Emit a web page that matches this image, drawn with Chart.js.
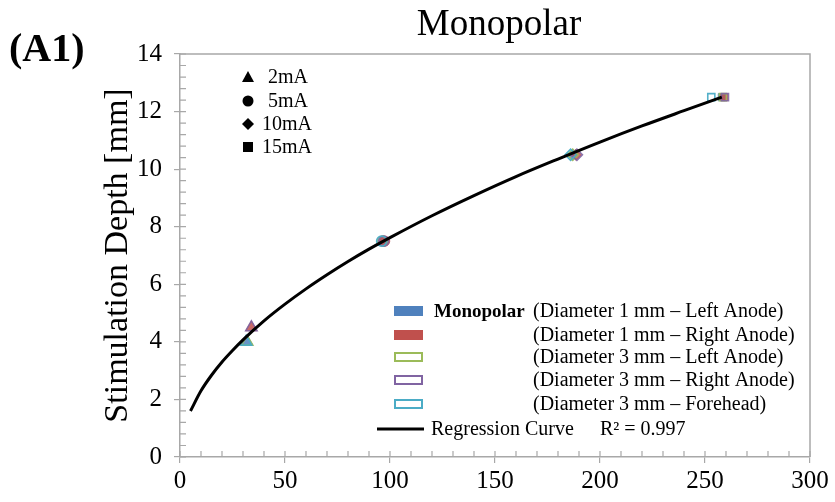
<!DOCTYPE html>
<html>
<head>
<meta charset="utf-8">
<script src="https://cdn.jsdelivr.net/npm/chart.js@4/dist/chart.umd.min.js"></script>
<style>
html,body{margin:0;padding:0;background:#fff;}
#wrap{width:835px;height:502px;position:relative;}
</style>
</head>
<body>
<div id="wrap"><canvas id="c" width="835" height="502"></canvas></div>
<script>
// ---- data ----
const currents = ['2mA', '5mA', '10mA', '15mA'];
const seriesNames = [
  '(Diameter 1 mm \u2013 Left Anode)',
  '(Diameter 1 mm \u2013 Right Anode)',
  '(Diameter 3 mm \u2013 Left Anode)',
  '(Diameter 3 mm \u2013 Right Anode)',
  '(Diameter 3 mm \u2013 Forehead)'
];
const xD1Left  = [32.0, 97.0, 187.0, 258.0];
const yD1Left  = [4.0, 7.5, 10.5, 12.5];
const xD1Right = [34.0, 97.5, 188.5, 259.0];
const yD1Right = [4.5, 7.5, 10.5, 12.5];
const xD3Left  = [32.0, 96.5, 187.0, 258.5];
const yD3Left  = [4.0, 7.5, 10.5, 12.5];
const xD3Right = [34.0, 97.0, 189.0, 259.5];
const yD3Right = [4.5, 7.5, 10.5, 12.5];
const xD3Fore  = [31.5, 96.0, 186.0, 253.0];
const yD3Fore  = [4.0, 7.5, 10.5, 12.5];
const curveX = [5, 10, 15, 20, 25, 30, 40, 50, 60, 70, 80, 90, 100, 120, 140, 160, 180, 200, 220, 240, 258];
const curveY = [1.6, 2.3, 2.84, 3.3, 3.7, 4.07, 4.73, 5.31, 5.84, 6.33, 6.79, 7.22, 7.62, 8.38, 9.08, 9.74, 10.35, 10.94, 11.5, 12.03, 12.5];
const xTickLabels = [0, 50, 100, 150, 200, 250, 300];
const yTickLabels = [0, 2, 4, 6, 8, 10, 12, 14];
const r2Text = 'R\u00b2 = 0.997';

// ---- styles ----
const SERIF = "'Liberation Serif', 'Times New Roman', serif";
const markerStyles = ['triangle', 'circle', 'rectRot', 'rect'];
const markerRadius = [6.5, 5, 5.5, 5];
const seriesColors = ['rgba(79,129,189,0.85)', 'rgba(192,80,77,0.85)', 'rgba(155,187,89,0.9)', 'rgba(128,100,162,0.9)', 'rgba(75,172,198,0.95)'];
const legendColors = ['#4F81BD', '#C0504D', '#9BBB59', '#8064A2', '#4BACC6'];
const filled = [true, true, false, false, false];

function pts(xs, ys) { return xs.map((x, i) => ({x: x, y: ys[i]})); }
const seriesData = [
  pts(xD1Left, yD1Left), pts(xD1Right, yD1Right), pts(xD3Left, yD3Left),
  pts(xD3Right, yD3Right), pts(xD3Fore, yD3Fore)
];

const datasets = [{
  type: 'line',
  label: 'Regression Curve',
  data: pts(curveX, curveY),
  borderColor: '#000',
  borderWidth: 3,
  pointRadius: 0,
  fill: false,
  cubicInterpolationMode: 'monotone',
  order: 0
}];
seriesData.forEach((d, i) => {
  datasets.push({
    type: 'scatter',
    label: seriesNames[i],
    data: d,
    pointStyle: markerStyles,
    pointRadius: markerRadius,
    pointBorderWidth: filled[i] ? 1 : 1.6,
    borderColor: seriesColors[i],
    backgroundColor: filled[i] ? seriesColors[i] : 'rgba(0,0,0,0)',
    order: 1 + (4 - i)
  });
});

const framePlugin = {
  id: 'frame',
  beforeDatasetsDraw(chart) {
    const ctx = chart.ctx, a = chart.chartArea, xs = chart.scales.x, ys = chart.scales.y;
    ctx.save();
    ctx.strokeStyle = '#a8a8a8';
    ctx.lineWidth = 1.5;
    ctx.beginPath();
    ctx.moveTo(a.left, a.top); ctx.lineTo(a.right, a.top); ctx.lineTo(a.right, a.bottom);
    ctx.stroke();
    ctx.lineWidth = 1.2;
    ctx.beginPath();
    for (let i = 0; i <= 35; i++) {
      const py = ys.getPixelForValue(i * 0.4);
      ctx.moveTo(a.left, py); ctx.lineTo(a.left + 6, py);
    }
    for (let i = 0; i <= 30; i++) {
      const px = xs.getPixelForValue(i * 10);
      ctx.moveTo(px, a.bottom); ctx.lineTo(px, a.bottom - 6);
    }
    ctx.stroke();
    ctx.restore();
  },
  afterDraw(chart) {
    const ctx = chart.ctx;
    ctx.save();
    ctx.fillStyle = '#000';
    ctx.textBaseline = 'alphabetic';
    // title and panel label
    ctx.font = '37px ' + SERIF;
    ctx.textAlign = 'center';
    ctx.fillText('Monopolar', 499, 35);
    ctx.font = 'bold 40px ' + SERIF;
    ctx.textAlign = 'left';
    ctx.fillText('(A1)', 9, 61);

    // current (marker shape) legend
    const lx = 248, rows = [77, 101, 124, 147];
    ctx.fillStyle = '#000';
    ctx.beginPath(); ctx.moveTo(lx, rows[0] - 6); ctx.lineTo(lx + 6, rows[0] + 5); ctx.lineTo(lx - 6, rows[0] + 5); ctx.closePath(); ctx.fill();
    ctx.beginPath(); ctx.arc(lx, rows[1], 5.5, 0, Math.PI * 2); ctx.fill();
    ctx.beginPath(); ctx.moveTo(lx, rows[2] - 6); ctx.lineTo(lx + 6, rows[2]); ctx.lineTo(lx, rows[2] + 6); ctx.lineTo(lx - 6, rows[2]); ctx.closePath(); ctx.fill();
    ctx.fillRect(lx - 5, rows[3] - 5, 10, 10);
    ctx.font = '20px ' + SERIF;
    ctx.textBaseline = 'middle';
    const textX = [268, 268, 262, 262];
    currents.forEach((c, i) => ctx.fillText(c, textX[i], rows[i] + 1));

    // series legend
    const sRows = [311, 335, 357, 380, 404];
    sRows.forEach((y, i) => {
      if (filled[i]) {
        ctx.fillStyle = legendColors[i];
        ctx.fillRect(394, y - 5, 29, 10);
      } else {
        ctx.strokeStyle = legendColors[i];
        ctx.lineWidth = 2;
        ctx.strokeRect(395, y - 4, 27, 8);
      }
      ctx.fillStyle = '#000';
      ctx.font = '20px ' + SERIF;
      ctx.fillText(seriesNames[i], 533, y + 1);
    });
    ctx.font = 'bold 19px ' + SERIF;
    ctx.fillText('Monopolar', 434, sRows[0] + 1);
    const ry = 429;
    ctx.strokeStyle = '#000';
    ctx.lineWidth = 3;
    ctx.beginPath(); ctx.moveTo(377, ry); ctx.lineTo(424, ry); ctx.stroke();
    ctx.font = '20px ' + SERIF;
    ctx.fillText(datasets[0].label, 431, ry + 1);
    ctx.fillText(r2Text, 600, ry + 1);
    ctx.restore();
  }
};

new Chart(document.getElementById('c'), {
  data: {datasets: datasets},
  options: {
    responsive: false,
    animation: false,
    events: [],
    layout: {padding: {left: 0, right: 25, top: 54, bottom: 0}},
    plugins: {legend: {display: false}, tooltip: {enabled: false}, title: {display: false}},
    scales: {
      x: {
        type: 'linear', min: 0, max: 300,
        afterBuildTicks(s) { s.ticks = xTickLabels.map(v => ({value: v})); },
        afterFit(s) { s.height = 45; },
        grid: {drawOnChartArea: false, drawTicks: true, tickLength: 6, color: '#a8a8a8', lineWidth: 1.2},
        border: {display: true, color: '#a8a8a8', width: 1.5},
        ticks: {autoSkip: false, maxRotation: 0, padding: 3, color: '#000', font: {family: SERIF, size: 25}}
      },
      y: {
        type: 'linear', min: 0, max: 14,
        afterBuildTicks(s) { s.ticks = yTickLabels.map(v => ({value: v})); },
        afterFit(s) { s.width = 180; },
        grid: {drawOnChartArea: false, drawTicks: true, tickLength: 6, color: '#a8a8a8', lineWidth: 1.2},
        border: {display: true, color: '#a8a8a8', width: 1.5},
        ticks: {autoSkip: false, padding: 12, color: '#000', font: {family: SERIF, size: 25}},
        title: {display: true, text: 'Stimulation Depth [mm]', color: '#000', font: {family: SERIF, size: 34}, padding: {top: 98, bottom: 0}}
      }
    }
  },
  plugins: [framePlugin]
});
</script>
</body>
</html>
